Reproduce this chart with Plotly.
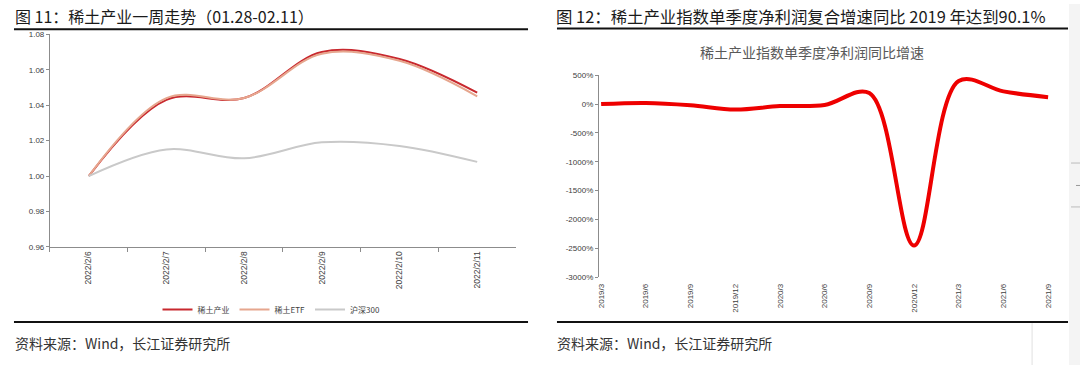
import plotly.graph_objects as go

# ---------------- data ----------------
week_dates = ["2022/2/6", "2022/2/7", "2022/2/8", "2022/2/9", "2022/2/10", "2022/2/11"]
rare_earth_industry = [1.000, 1.043, 1.044, 1.070, 1.066, 1.047]
rare_earth_etf = [1.000, 1.044, 1.044, 1.069, 1.065, 1.045]
hs300 = [1.000, 1.015, 1.010, 1.019, 1.017, 1.008]

quarters = ["2019/3", "2019/6", "2019/9", "2019/12", "2020/3", "2020/6",
            "2020/9", "2020/12", "2021/3", "2021/6", "2021/9"]
profit_yoy = [0, 20, -20, -95, -35, -15, 190, -2450, 400, 220, 120]

left_y_ticks = [0.96, 0.98, 1.00, 1.02, 1.04, 1.06, 1.08]
right_y_ticks = [500, 0, -500, -1000, -1500, -2000, -2500, -3000]

# ---------------- layout helpers ----------------
W, H = 1080, 370


def fx(px):
    return px / W


def fy(py):
    return 1 - py / H


FONT = "Liberation Sans, Arial, Noto Sans CJK SC, sans-serif"
CJK = "Noto Sans CJK SC, Liberation Sans, sans-serif"
AX = "#8c8c8c"
TXT = "#404040"

fig = go.Figure()

# left chart
fig.add_trace(go.Scatter(x=week_dates, y=rare_earth_industry, name="稀土产业",
                         mode="lines", line=dict(color="#C8282E", width=2, shape="spline", smoothing=1.0),
                         xaxis="x", yaxis="y"))
fig.add_trace(go.Scatter(x=week_dates, y=rare_earth_etf, name="稀土ETF",
                         mode="lines", line=dict(color="#E6A68E", width=2, shape="spline", smoothing=1.0),
                         xaxis="x", yaxis="y"))
fig.add_trace(go.Scatter(x=week_dates, y=hs300, name="沪深300",
                         mode="lines", line=dict(color="#C9C9C9", width=2, shape="spline", smoothing=1.0),
                         xaxis="x", yaxis="y"))

# right chart
fig.add_trace(go.Scatter(x=quarters, y=profit_yoy, name="净利润同比增速", showlegend=False,
                         mode="lines", line=dict(color="#EE0000", width=4, shape="spline", smoothing=1.0),
                         xaxis="x2", yaxis="y2"))

ydom_r = [fy(280), fy(73)]
zero_pos = ydom_r[0] + (0 - (-3000)) / 3500 * (ydom_r[1] - ydom_r[0])

fig.update_layout(
    width=W, height=H,
    margin=dict(l=0, r=0, t=0, b=0),
    paper_bgcolor="white", plot_bgcolor="white",
    font=dict(family=FONT, color=TXT, size=8),
    xaxis=dict(domain=[fx(48), fx(515)], anchor="y", type="category",
               range=[-0.5, 5.5], tickson="boundaries", ticks="outside", ticklen=4,
               tickcolor=AX, showline=True, linecolor=AX, linewidth=1,
               tickangle=-90, showgrid=False, zeroline=False,
               tickfont=dict(size=8.5, color=TXT, family=FONT)),
    yaxis=dict(domain=[fy(249), fy(31)], anchor="x", range=[0.96, 1.08],
               tickmode="array", tickvals=left_y_ticks,
               ticktext=[f"{v:.2f}" for v in left_y_ticks],
               ticks="outside", ticklen=3, tickcolor=AX,
               showline=True, linecolor=AX, linewidth=1, showgrid=False, zeroline=False,
               tickfont=dict(size=8, color=TXT, family=FONT)),
    xaxis2=dict(domain=[fx(598), fx(1057)], anchor="y2", type="category",
                range=[-0.05, 10.2], showline=False, ticks="", showgrid=False, zeroline=False,
                tickangle=-90, ticklabelstandoff=4,
                tickfont=dict(size=8, color=TXT, family=FONT)),
    xaxis3=dict(domain=[fx(598), fx(1057)], overlaying="x2", anchor="free", position=zero_pos,
                type="linear", range=[-0.05, 10.2], showline=True, linecolor="#A6A6A6", linewidth=1.5,
                ticks="inside", ticklen=4, tickcolor="#A6A6A6", tickmode="array",
                tickvals=list(range(len(quarters))), showticklabels=False,
                showgrid=False, zeroline=False),
    yaxis2=dict(domain=ydom_r, anchor="x2", range=[-3000, 500],
                tickmode="array", tickvals=right_y_ticks,
                ticktext=[f"{v}%" for v in right_y_ticks],
                ticks="outside", ticklen=3, tickcolor=AX,
                showline=True, linecolor=AX, linewidth=1, showgrid=False, zeroline=False,
                tickfont=dict(size=8, color=TXT, family=FONT)),
    legend=dict(orientation="h", x=fx(270), xanchor="center", y=fy(313), yanchor="middle",
                font=dict(size=8, color=TXT, family=CJK), bgcolor="rgba(0,0,0,0)",
                itemwidth=30, tracegroupgap=0),
    showlegend=True,
)

annotations = [
    dict(text="图 11：稀土产业一周走势（01.28-02.11）", x=fx(11), y=fy(12), xanchor="left", yanchor="middle",
         font=dict(size=16, color="#1a1a1a", family=CJK)),
    dict(text="图 12：稀土产业指数单季度净利润复合增速同比 2019 年达到90.1%", x=fx(553), y=fy(12),
         xanchor="left", yanchor="middle", font=dict(size=16.4, color="#1a1a1a", family=CJK)),
    dict(text="稀土产业指数单季度净利润同比增速", x=fx(812), y=fy(49), xanchor="center", yanchor="middle",
         font=dict(size=14, color="#595959", family=CJK)),
    dict(text="资料来源：Wind，长江证券研究所", x=fx(11), y=fy(347), xanchor="left", yanchor="middle",
         font=dict(size=14, color="#333333", family=CJK)),
    dict(text="资料来源：Wind，长江证券研究所", x=fx(554), y=fy(347), xanchor="left", yanchor="middle",
         font=dict(size=14, color="#333333", family=CJK)),
]
for a in annotations:
    a.update(xref="paper", yref="paper", showarrow=False)
fig.update_layout(annotations=annotations)

shapes = [
    dict(type="line", x0=fx(12), x1=fx(527), y0=fy(26), y1=fy(26), line=dict(color="#111111", width=2)),
    dict(type="line", x0=fx(12), x1=fx(527), y0=fy(326), y1=fy(326), line=dict(color="#111111", width=2)),
    dict(type="line", x0=fx(556), x1=fx(1068), y0=fy(25), y1=fy(25), line=dict(color="#111111", width=2)),
    dict(type="line", x0=fx(556), x1=fx(1068), y0=fy(326), y1=fy(326), line=dict(color="#111111", width=2)),
    dict(type="rect", x0=fx(1069), x1=1, y0=0, y1=1, line=dict(width=0), fillcolor="#f4f4f4", layer="below"),
    dict(type="line", x0=fx(1032), x1=fx(1032), y0=0, y1=fy(327), line=dict(color="#e0e0e0", width=1)),
    dict(type="line", x0=fx(1071), x1=1, y0=fy(163), y1=fy(163), line=dict(color="#bbbbbb", width=1)),
    dict(type="line", x0=fx(1071), x1=1, y0=fy(208), y1=fy(208), line=dict(color="#bbbbbb", width=1)),
    dict(type="line", x0=fx(1076), x1=1, y0=fy(186), y1=fy(186), line=dict(color="#999999", width=1)),
]
for s in shapes:
    s.update(xref="paper", yref="paper")
fig.update_layout(shapes=shapes)

fig.write_html("out.html", config={"displayModeBar": False},
               post_script="document.body.style.margin='0px';document.body.style.padding='0px';")
